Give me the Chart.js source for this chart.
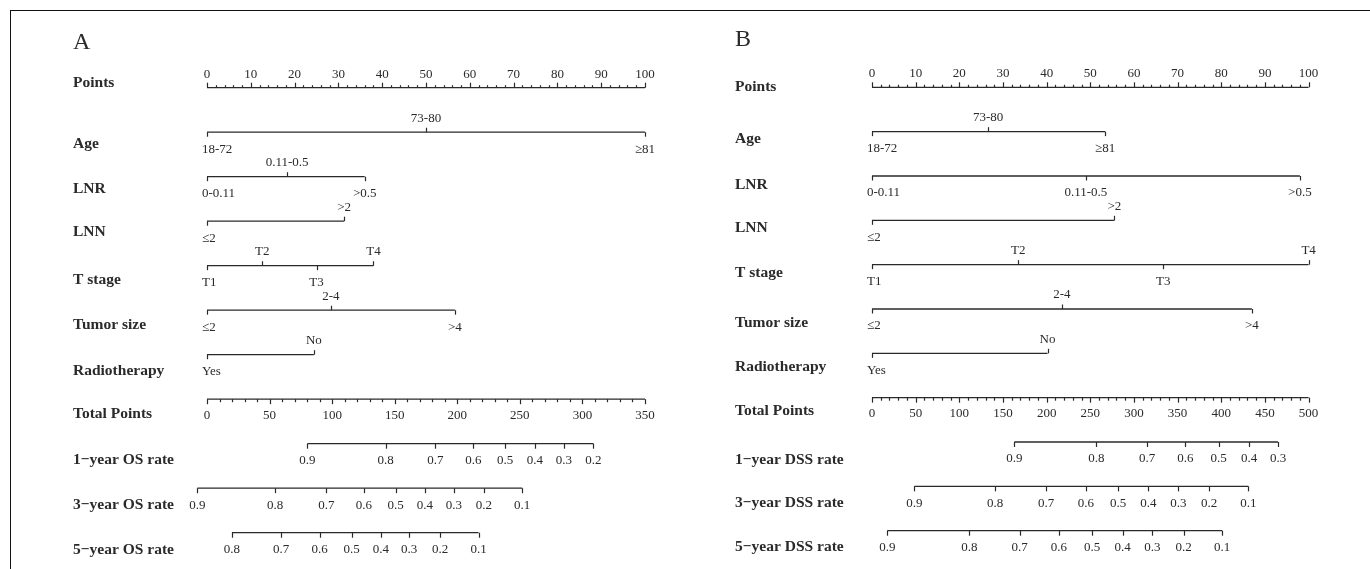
<!DOCTYPE html>
<html>
<head>
<meta charset="utf-8">
<script src="https://cdn.jsdelivr.net/npm/chart.js@4.4.0/dist/chart.umd.min.js"></script>
<style>
    body { margin: 0; background: #fff; }
    #wrap { position: relative; width: 1370px; height: 569px; overflow: hidden; background: #fff; }
    #frame { position: absolute; left: 10px; top: 10px; width: 1400px; height: 600px;
             border-left: 1.5px solid #111; border-top: 1.5px solid #111; }
    canvas { position: absolute; top: 0; }
    #chartA { left: 0; }
    #chartB { left: 685px; }
</style>
</head>
<body>
<div id="wrap">
    <div id="frame"></div>
    <canvas id="chartA" width="685" height="569"></canvas>
    <canvas id="chartB" width="685" height="569"></canvas>
</div>
<script>
// shared categories
const pointTicks = [0, 10, 20, 30, 40, 50, 60, 70, 80, 90, 100];
const varNames = ['Age', 'LNR', 'LNN', 'T stage', 'Tumor size', 'Radiotherapy'];
const ageLevels = ['18-72', '73-80', '≥81'];
const lnrLevels = ['0-0.11', '0.11-0.5', '>0.5'];
const lnnLevels = ['≤2', '>2'];
const tLevels = ['T1', 'T2', 'T3', 'T4'];
const sizeLevels = ['≤2', '2-4', '>4'];
const rtLevels = ['Yes', 'No'];

// Panel A - overall survival (points per level)
const ageA = [0, 50, 100];
const lnrA = [0, 18.3, 36];
const lnnA = [0, 31.3];
const tA = [0, 12.6, 25, 38];
const sizeA = [0, 28.3, 56.6];
const rtA = [0, 24.4];
const totalTicksA = [0, 50, 100, 150, 200, 250, 300, 350];
const os1Probs = [0.9, 0.8, 0.7, 0.6, 0.5, 0.4, 0.3, 0.2];
const os1Total = [80.3, 142.7, 182.5, 212.9, 238.3, 262.1, 285.1, 308.8];
const os3Probs = [0.9, 0.8, 0.7, 0.6, 0.5, 0.4, 0.3, 0.2, 0.1];
const os3Total = [-7.7, 54.4, 95.3, 125.3, 150.7, 174.1, 197.2, 221.2, 251.9];
const os5Probs = [0.8, 0.7, 0.6, 0.5, 0.4, 0.3, 0.2, 0.1];
const os5Total = [19.9, 59.3, 90.0, 115.5, 138.9, 161.6, 186.3, 217.0];

// Panel B - disease specific survival
const ageB = [0, 26.6, 53.4];
const lnrB = [0, 49, 98];
const lnnB = [0, 55.5];
const tB = [0, 33.5, 66.7, 100];
const sizeB = [0, 43.5, 87];
const rtB = [0, 40.2];
const totalTicksB = [0, 50, 100, 150, 200, 250, 300, 350, 400, 450, 500];
const dss1Probs = [0.9, 0.8, 0.7, 0.6, 0.5, 0.4, 0.3];
const dss1Total = [163, 257, 315, 359, 397, 432, 465];
const dss3Probs = [0.9, 0.8, 0.7, 0.6, 0.5, 0.4, 0.3, 0.2, 0.1];
const dss3Total = [48.5, 141, 199.5, 245, 282, 316.5, 351, 386, 431];
const dss5Probs = [0.9, 0.8, 0.7, 0.6, 0.5, 0.4, 0.3, 0.2, 0.1];
const dss5Total = [17.5, 111.5, 169, 214, 252, 287, 321, 357, 401];

const INK = '#2a2a2a';
const SERIF = '"Liberation Serif", "Times New Roman", serif';

// which side each level label sits on (u = above, d = below)
const sidesA = [['d','u','d'], ['d','u','d'], ['d','u'], ['d','u','d','u'], ['d','u','d'], ['d','u']];
const sidesB = [['d','u','d'], ['d','d','d'], ['d','u'], ['d','u','d','u'], ['d','u','d'], ['d','u']];

const nomogramPlugin = {
    id: 'nomogram',
    afterDatasetsDraw(chart) {
        const o = chart.options.plugins.nomogram;
        const ctx = chart.ctx;
        const x = chart.scales.x, xt = chart.scales.xt, y = chart.scales.y;
        ctx.save();
        ctx.strokeStyle = INK;
        ctx.fillStyle = INK;
        ctx.lineWidth = 1.2;

        const tick = (px, py, len) => {
            ctx.beginPath();
            ctx.moveTo(Math.round(px) + 0.5, py);
            ctx.lineTo(Math.round(px) + 0.5, py + len);
            ctx.stroke();
        };

        // panel letter
        ctx.font = '24px ' + SERIF;
        ctx.textAlign = 'left';
        ctx.textBaseline = 'middle';
        ctx.fillText(o.letter, o.titleX, o.letterY);

        // row titles
        ctx.font = 'bold 15.5px ' + SERIF;
        o.titles.forEach((t, i) => {
            ctx.fillText(t, o.titleX, y.getPixelForValue(i) + o.titleOff[i]);
        });

        ctx.font = '13px ' + SERIF;
        ctx.textAlign = 'center';

        // Points axis, row 0
        let py = y.getPixelForValue(0);
        for (let v = 0; v <= 100; v += 2) {
            tick(x.getPixelForValue(v), py, v % 10 === 0 ? -5 : -2.5);
        }
        pointTicks.forEach(v => ctx.fillText(String(v), x.getPixelForValue(v), py - 13.5));

        // variable rows 1..6
        o.vars.forEach((vr, i) => {
            const ry = y.getPixelForValue(i + 1);
            vr.scores.forEach((s, j) => {
                const px = x.getPixelForValue(s);
                const up = vr.sides[j] === 'u';
                tick(px, ry, up ? -4.5 : 4.5);
                if (s === 0) {
                    ctx.textAlign = 'left';
                    ctx.fillText(vr.levels[j], px - 5, up ? ry - 14 : ry + 17);
                    ctx.textAlign = 'center';
                } else {
                    ctx.fillText(vr.levels[j], px, up ? ry - 14 : ry + 17);
                }
            });
        });

        // Total points axis, row 7
        py = y.getPixelForValue(7);
        for (let v = 0; v <= o.totalMax; v += 10) {
            tick(xt.getPixelForValue(v), py, v % 50 === 0 ? 5 : 3);
        }
        o.totalTicks.forEach(v => ctx.fillText(String(v), xt.getPixelForValue(v), py + 16));

        // survival probability rows 8..10
        o.rates.forEach((r, i) => {
            const ry = y.getPixelForValue(i + 8);
            r.total.forEach((t, j) => {
                const px = xt.getPixelForValue(t);
                tick(px, ry, 5);
                ctx.fillText(r.probs[j].toFixed(1), px, ry + 17);
            });
        });

        ctx.restore();
    }
};

function lineSet(axis, from, to, row) {
    return {
        data: [{x: from, y: row}, {x: to, y: row}],
        xAxisID: axis,
        borderColor: INK,
        borderWidth: 1.3,
        pointRadius: 0,
        showLine: true,
        clip: false
    };
}

function makePanel(id, p) {
    const datasets = [lineSet('x', 0, 100, 0)];
    p.vars.forEach((vr, i) => {
        datasets.push(lineSet('x', Math.min(...vr.scores), Math.max(...vr.scores), i + 1));
    });
    datasets.push(lineSet('xt', 0, p.totalMax, 7));
    p.rates.forEach((r, i) => {
        datasets.push(lineSet('xt', Math.min(...r.total), Math.max(...r.total), i + 8));
    });

    const ctx = document.getElementById(id).getContext('2d');
    new Chart(ctx, {
        type: 'scatter',
        data: { datasets: datasets },
        options: {
            responsive: false,
            animation: false,
            layout: { padding: p.padding },
            scales: {
                x: { type: 'linear', min: 0, max: 100, display: false },
                xt: { type: 'linear', min: 0, max: p.totalMax, display: false },
                y: { type: 'linear', min: 0, max: 10, reverse: true, display: false }
            },
            plugins: {
                legend: { display: false },
                tooltip: { enabled: false },
                nomogram: p
            }
        },
        plugins: [nomogramPlugin]
    });
}

makePanel('chartA', {
    letter: 'A',
    letterY: 43,
    titleX: 73,
    titles: ['Points', ...varNames, 'Total Points', '1\u2212year OS rate', '3\u2212year OS rate', '5\u2212year OS rate'],
    titleOff: [-4.5, 11.5, 12, 11, 14, 15, 16.5, 15, 16, 16.5, 17],
    padding: { left: 207, right: 40, top: 87.7, bottom: 569 - 532.7 },
    vars: [
        { levels: ageLevels, scores: ageA, sides: sidesA[0] },
        { levels: lnrLevels, scores: lnrA, sides: sidesA[1] },
        { levels: lnnLevels, scores: lnnA, sides: sidesA[2] },
        { levels: tLevels, scores: tA, sides: sidesA[3] },
        { levels: sizeLevels, scores: sizeA, sides: sidesA[4] },
        { levels: rtLevels, scores: rtA, sides: sidesA[5] }
    ],
    totalMax: 350,
    totalTicks: totalTicksA,
    rates: [
        { probs: os1Probs, total: os1Total },
        { probs: os3Probs, total: os3Total },
        { probs: os5Probs, total: os5Total }
    ]
});

makePanel('chartB', {
    letter: 'B',
    letterY: 40,
    titleX: 50,
    titles: ['Points', ...varNames, 'Total Points', '1\u2212year DSS rate', '3\u2212year DSS rate', '5\u2212year DSS rate'],
    titleOff: [0, 7.5, 9, 8, 8.5, 13.5, 14, 13.5, 18, 17, 16],
    padding: { left: 187, right: 61.4, top: 87.3, bottom: 569 - 530.7 },
    vars: [
        { levels: ageLevels, scores: ageB, sides: sidesB[0] },
        { levels: lnrLevels, scores: lnrB, sides: sidesB[1] },
        { levels: lnnLevels, scores: lnnB, sides: sidesB[2] },
        { levels: tLevels, scores: tB, sides: sidesB[3] },
        { levels: sizeLevels, scores: sizeB, sides: sidesB[4] },
        { levels: rtLevels, scores: rtB, sides: sidesB[5] }
    ],
    totalMax: 500,
    totalTicks: totalTicksB,
    rates: [
        { probs: dss1Probs, total: dss1Total },
        { probs: dss3Probs, total: dss3Total },
        { probs: dss5Probs, total: dss5Total }
    ]
});
</script>
</body>
</html>
